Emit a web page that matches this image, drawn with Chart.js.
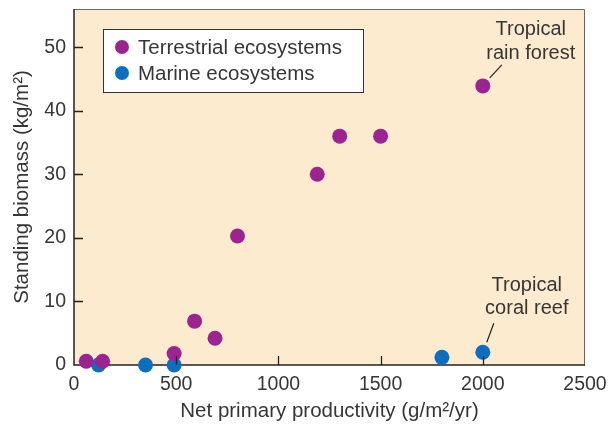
<!DOCTYPE html>
<html>
<head>
<meta charset="utf-8">
<script src="https://cdn.jsdelivr.net/npm/chart.js@4/dist/chart.umd.min.js"></script>
<style>
  html, body { margin: 0; padding: 0; background: #fff; }
  #wrap { width: 610px; height: 430px; }
</style>
</head>
<body>
<div id="wrap"><canvas id="chart" width="610" height="430"></canvas></div>
<script>
// Dados
const terrestreX = [60, 140, 490, 590, 690, 800, 1190, 1300, 1500, 2000];
const terrestreY = [0.6, 0.6, 1.8, 6.9, 4.2, 20.3, 30, 36, 36, 43.9];
const marinhoX = [120, 350, 490, 1800, 2000];
const marinhoY = [0, 0, 0, 1.2, 2.0];
const xTicks = [0, 500, 1000, 1500, 2000, 2500];
const yTicks = [0, 10, 20, 30, 40, 50];
const nomes = ['Terrestrial ecosystems', 'Marine ecosystems'];

const roxo = '#9d2490';
const azul = '#0a6fbe';
const fundo = '#fdebcf';
const texto = '#363636';
const fonte = '"Liberation Sans", Arial, Helvetica, sans-serif';

function pontos(xs, ys) {
    return xs.map((x, i) => ({ x: x, y: ys[i] }));
}

// tira o espaço extra que o Chart.js reserva para os rótulos
function semFolga(s) {
    s.paddingTop = 0;
    s.paddingBottom = 0;
    s.paddingLeft = 0;
    s.paddingRight = 0;
}

// Fundo, moldura e marcas de escala
const moldura = {
    id: 'moldura',
    beforeDatasetsDraw(chart) {
        const { ctx, chartArea: a } = chart;
        ctx.save();
        ctx.fillStyle = fundo;
        ctx.fillRect(a.left, a.top, a.right - a.left, a.bottom - a.top);
        ctx.strokeStyle = '#666';
        ctx.lineWidth = 1;
        ctx.beginPath();
        ctx.moveTo(a.left, a.top + 0.5);
        ctx.lineTo(a.right - 0.5, a.top + 0.5);
        ctx.lineTo(a.right - 0.5, a.bottom);
        ctx.stroke();
        ctx.strokeStyle = '#222';
        ctx.lineWidth = 1.5;
        ctx.beginPath();
        ctx.moveTo(a.left, a.top);
        ctx.lineTo(a.left, a.bottom);
        ctx.lineTo(a.right, a.bottom);
        ctx.stroke();
        ctx.restore();
    },
    afterDatasetsDraw(chart) {
        const { ctx, chartArea: a, scales } = chart;
        ctx.save();
        ctx.strokeStyle = '#222';
        ctx.lineWidth = 1.3;
        ctx.beginPath();
        xTicks.slice(1, -1).forEach(v => {
            const px = Math.round(scales.x.getPixelForValue(v)) + 0.5;
            ctx.moveTo(px, a.bottom);
            ctx.lineTo(px, a.bottom - 9);
        });
        yTicks.slice(1).forEach(v => {
            const py = Math.round(scales.y.getPixelForValue(v)) + 0.5;
            ctx.moveTo(a.left, py);
            ctx.lineTo(a.left + 9, py);
        });
        ctx.stroke();
        ctx.restore();
    },
    afterDraw(chart) {
        const { ctx, chartArea: a, scales } = chart;
        ctx.save();

        // Legenda
        const lx = a.left + 29, ly = a.top + 20;
        ctx.fillStyle = '#fff';
        ctx.fillRect(lx, ly, 260, 63);
        ctx.strokeStyle = '#333';
        ctx.lineWidth = 1;
        ctx.strokeRect(lx + 0.5, ly + 0.5, 260, 63);
        ctx.font = '20.5px ' + fonte;
        ctx.textBaseline = 'middle';
        ctx.textAlign = 'left';
        [roxo, azul].forEach((cor, i) => {
            const cy = ly + 18 + i * 26;
            ctx.fillStyle = cor;
            ctx.beginPath();
            ctx.arc(lx + 19, cy, 7, 0, Math.PI * 2);
            ctx.fill();
            ctx.fillStyle = texto;
            ctx.fillText(nomes[i], lx + 35, cy + 1);
        });

        // Anotações
        ctx.textAlign = 'center';
        ctx.font = '20px ' + fonte;
        ctx.fillStyle = texto;
        ctx.strokeStyle = '#222';
        ctx.lineWidth = 1.2;

        const fx = scales.x.getPixelForValue(terrestreX[9]);
        const fy = scales.y.getPixelForValue(terrestreY[9]);
        ctx.beginPath();
        ctx.moveTo(fx + 7, fy - 8);
        ctx.lineTo(fx + 19, fy - 21);
        ctx.stroke();
        ctx.fillText('Tropical', fx + 48, fy - 56);
        ctx.fillText('rain forest', fx + 48, fy - 32);

        const rx = scales.x.getPixelForValue(marinhoX[4]);
        const ry = scales.y.getPixelForValue(marinhoY[4]);
        ctx.beginPath();
        ctx.moveTo(rx + 4, ry - 10);
        ctx.lineTo(rx + 11, ry - 29);
        ctx.stroke();
        ctx.fillText('Tropical', rx + 44, ry - 67);
        ctx.fillText('coral reef', rx + 44, ry - 44);

        ctx.restore();
    }
};

const grafico = new Chart(document.getElementById('chart'), {
    type: 'scatter',
    data: {
        datasets: [
            {
                label: nomes[0],
                data: pontos(terrestreX, terrestreY),
                backgroundColor: roxo,
                borderWidth: 0,
                pointRadius: 7.5,
                clip: false
            },
            {
                label: nomes[1],
                data: pontos(marinhoX, marinhoY),
                backgroundColor: azul,
                borderWidth: 0,
                pointRadius: 7.5,
                clip: false
            }
        ]
    },
    options: {
        responsive: false,
        animation: false,
        layout: { padding: { left: 0, right: 25, top: 9, bottom: 0 } },
        plugins: {
            legend: { display: false },
            tooltip: { enabled: false }
        },
        scales: {
            x: {
                type: 'linear',
                min: 0,
                max: 2500,
                afterBuildTicks: s => { s.ticks = xTicks.map(v => ({ value: v })); },
                afterFit: s => { s.height = 65; semFolga(s); },
                grid: { display: false, drawTicks: false },
                border: { display: false },
                ticks: {
                    color: texto,
                    padding: 8,
                    maxRotation: 0,
                    font: { size: 19.5, family: fonte },
                    callback: v => String(v)
                },
                title: {
                    display: true,
                    text: 'Net primary productivity (g/m²/yr)',
                    color: texto,
                    font: { size: 20.5, family: fonte },
                    padding: { top: 0, bottom: 6 }
                }
            },
            y: {
                type: 'linear',
                min: 0,
                max: 56,
                afterBuildTicks: s => { s.ticks = yTicks.map(v => ({ value: v })); },
                afterFit: s => { s.width = 74; semFolga(s); },
                grid: { display: false, drawTicks: false },
                border: { display: false },
                ticks: {
                    color: texto,
                    padding: 8,
                    font: { size: 19.5, family: fonte },
                    callback: v => String(v)
                },
                title: {
                    display: true,
                    text: 'Standing biomass (kg/m²)',
                    color: texto,
                    font: { size: 20.5, family: fonte },
                    padding: { top: 10, bottom: 0 }
                }
            }
        }
    },
    plugins: [moldura]
});
</script>
</body>
</html>
